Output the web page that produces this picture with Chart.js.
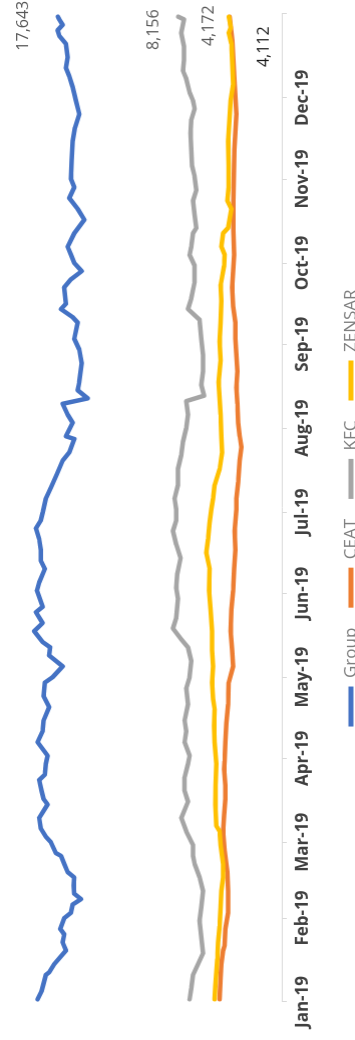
<!DOCTYPE html>
<html><head><meta charset="utf-8">
<script src="https://cdn.jsdelivr.net/npm/chart.js@4.4.1/dist/chart.umd.min.js"></script>
<style>
html,body{margin:0;padding:0;width:355px;height:1040px;overflow:hidden;background:#fff;}
#wrap{position:absolute;left:0;top:0;width:1040px;height:400px;transform-origin:0 0;transform:translateY(1040px) rotate(-90deg);}
</style></head><body>
<div id="wrap"><canvas id="c" width="1040" height="400"></canvas></div>
<script>
// ---- data (x = day of year 2019, y = value) ----
const seriesNames = ['Group', 'CEAT', 'KFC', 'ZENSAR'];
const monthTickDays = [0, 31, 59, 90, 120, 151, 181, 212, 243, 273, 304, 334, 365];
const monthLabels = ['Jan-19','Feb-19','Mar-19','Apr-19','May-19','Jun-19','Jul-19','Aug-19','Sep-19','Oct-19','Nov-19','Dec-19',''];

const groupDays = [1,4,10,11,14,19,22,25,27,31,33,36,38,40,43,46,48,51,54,55,59,61,64,68,73,75,78,82,84,88,91,96,100,104,109,113,118,120,124,128,131,133,137,140,144,146,152,155,160,163,167,171,175,178,181,186,190,195,200,203,208,209,214,217,221,223,226,229,236,241,245,251,253,256,258,264,267,270,273,276,279,284,289,293,297,301,304,311,318,323,328,333,338,342,345,349,354,357,359,361,363,364];
const groupValues = [19249,18932,18593,18332,17937,17011,17273,17146,17462,17146,16616,16482,15826,16355,16403,16355,16877,17146,17407,17802,18197,18593,18988,19122,18458,18774,18932,19122,18672,18593,18458,19249,18853,18774,18332,18774,18672,18063,17273,18332,18253,18853,19517,18853,19383,18853,19304,19122,18672,18988,18988,19122,19383,18988,18830,18593,18197,17723,17273,16751,16355,17011,16482,16877,17273,15296,16087,15960,15771,15960,16355,16087,16482,17407,17011,17146,16616,15771,16355,16616,16877,16355,15565,16087,16751,16355,16616,16561,16482,16300,15960,16221,16482,16751,17011,16877,17011,17541,17668,17273,17541,17643];

const ceatDays = [1,9,14,19,21,27,33,41,48,56,63,69,75,80,86,89,96,103,110,118,124,130,137,145,152,160,167,174,182,186,192,200,205,209,214,221,227,233,239,245,251,257,264,270,276,285,296,315,328,341,355,364];
const ceatValues = [4893,4814,4759,4624,4498,4443,4229,4229,4285,4498,4624,4545,4443,4443,4545,4498,4443,4364,4229,4182,3834,3913,4024,3968,3834,3755,3652,3707,3573,3573,3439,3312,3178,3312,3439,3494,3573,3494,3573,3652,3652,3834,3913,3834,3755,3810,3810,3731,3573,3731,3889,4112];

const kfcDays = [1,5,10,14,18,24,30,35,41,46,51,54,58,63,68,74,78,83,88,91,96,100,104,110,116,120,126,131,134,138,142,149,153,158,164,169,174,178,182,186,191,197,202,207,212,217,222,224,228,233,239,245,252,256,260,266,272,276,279,284,286,291,296,300,305,309,315,321,326,330,333,336,341,344,348,353,358,363,364];
const kfcValues = [7265,7130,6996,6601,6205,6340,6474,6340,6205,6474,6869,6996,6996,7526,7921,7391,7660,7660,7391,7265,7660,7526,7660,7391,7526,7265,7130,7391,7921,8577,8316,8182,8316,8237,7976,8316,8577,8316,8316,8450,8182,8182,7921,7786,7526,7391,7526,6126,6340,6205,6205,6340,6474,7391,7130,6869,6869,7265,7130,6996,6735,6869,6996,6735,6869,7075,7130,7186,7130,6869,6996,7265,7526,7786,7707,7707,7921,7707,8156];

const zensarDays = [1,6,11,16,22,28,35,41,46,51,58,63,65,73,80,88,96,102,108,112,118,124,130,137,145,152,160,166,171,177,182,186,191,197,203,209,217,223,229,237,244,251,259,265,272,276,279,284,286,293,296,301,309,318,327,333,339,348,354,358,360,364];
const zensarValues = [5288,5233,5154,5075,5020,4893,4814,4759,4624,4624,4814,4893,5154,5233,5209,5154,5288,5336,5288,5415,5494,5415,5494,5494,5605,5731,5684,5945,5810,5684,5549,5415,5288,4893,4704,4759,4814,4893,4972,4814,4893,4814,4759,4814,4545,4498,4759,4624,4229,3968,4285,4182,4182,4229,4103,4024,3834,3913,3968,4182,4024,4172];

const seriesColors = ['#4472C4', '#ED7D31', '#A5A5A5', '#FFC000'];

// ---- chart ----
Chart.defaults.font.family = "'Open Sans', sans-serif";
const pairs = (d, v) => d.map((x, i) => ({x: x, y: v[i]}));
const fmt = v => String(v).replace(/\B(?=(\d{3})+(?!\d))/g, ',');

const endLabelStyle = [
  {dx: -9, dy: -34, color: '#595959'},
  {dx: -30, dy: 34, color: '#1a1a1a'},
  {dx: -13, dy: -24, color: '#595959'},
  {dx: -9, dy: -20, color: '#595959'}
];

const endLabels = {
  id: 'endLabels',
  afterDatasetsDraw(chart) {
    const ctx = chart.ctx;
    chart.data.datasets.forEach((ds, i) => {
      const meta = chart.getDatasetMeta(i);
      const el = meta.data[meta.data.length - 1];
      const st = endLabelStyle[i];
      ctx.save();
      ctx.font = "16px 'Open Sans'";
      ctx.fillStyle = st.color;
      ctx.textAlign = 'center';
      ctx.textBaseline = 'middle';
      ctx.fillText(fmt(ds.data[ds.data.length - 1].y), el.x + st.dx, el.y + st.dy);
      ctx.restore();
    });
  }
};

let axisExtra = 9;
const allDays = [groupDays, ceatDays, kfcDays, zensarDays];
const allValues = [groupValues, ceatValues, kfcValues, zensarValues];

const chart = new Chart(document.getElementById('c'), {
  type: 'line',
  data: {
    datasets: seriesNames.map((n, i) => ({
      label: n,
      data: pairs(allDays[i], allValues[i]),
      borderColor: seriesColors[i],
      backgroundColor: seriesColors[i],
      borderWidth: 4.5,
      borderJoinStyle: 'round',
      borderCapStyle: 'round',
      pointRadius: 0,
      tension: 0,
      order: [4, 3, 2, 1][i]
    }))
  },
  options: {
    responsive: false,
    maintainAspectRatio: false,
    animation: false,
    layout: {padding: {left: 38, right: 14, top: 28, bottom: 0}},
    scales: {
      x: {
        type: 'linear', min: 0, max: 365,
        afterBuildTicks: s => { s.ticks = monthTickDays.map(v => ({value: v})); },
        afterFit: s => { s.height += axisExtra; },
        ticks: {
          autoSkip: false, maxRotation: 0, minRotation: 0, padding: 6,
          color: '#404040', font: {size: 17, weight: 'bold'},
          callback: v => monthLabels[monthTickDays.indexOf(v)]
        },
        grid: {display: true, drawOnChartArea: false, drawTicks: true, tickLength: 5, color: '#d9d9d9'},
        border: {display: true, color: '#d9d9d9', width: 1}
      },
      y: {display: false, min: 0, max: 20000}
    },
    plugins: {
      tooltip: {enabled: false},
      legend: {
        position: 'bottom',
        labels: {
          boxWidth: 40, boxHeight: 5, padding: 20,
          color: '#7f7f7f', font: {size: 17},
          generateLabels: ch => {
            const items = Chart.defaults.plugins.legend.labels.generateLabels(ch);
            items.forEach(it => { it.lineWidth = 0; it.fillStyle = seriesColors[it.datasetIndex]; });
            return items.sort((a, b) => a.datasetIndex - b.datasetIndex);
          }
        }
      }
    }
  },
  plugins: [endLabels]
});

// fit the layout: plot bottom at 281, legend row centred 69px below it
let H = 400;
for (let k = 0; k < 4; k++) {
  const hb = chart.legend.legendHitBoxes[0];
  const center = hb.top + hb.height / 2;
  axisExtra += 69 - (center - chart.chartArea.bottom);
  chart.update();
  H += 281 - chart.chartArea.bottom;
  document.getElementById('wrap').style.height = H + 'px';
  chart.resize(1040, H);
}
</script>
</body></html>
